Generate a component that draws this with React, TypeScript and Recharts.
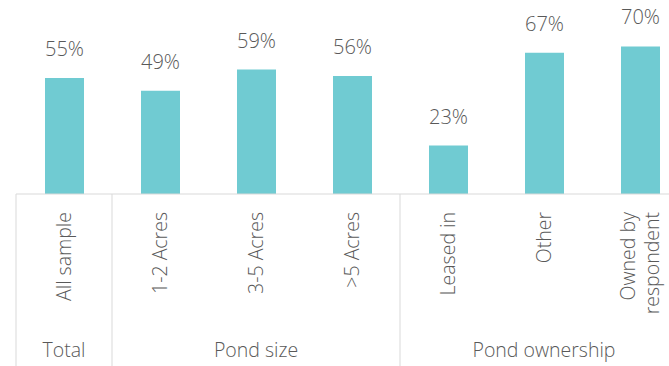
import { BarChart, Bar, XAxis, YAxis, LabelList } from "recharts";

const categories = ["All sample", "1-2 Acres", "3-5 Acres", ">5 Acres", "Leased in", "Other", "Owned by\nrespondent"];
const values = [55, 49, 59, 56, 23, 67, 70];
const groupNames = ["Total", "Pond size", "Pond ownership"];
const groupOf = [0, 1, 1, 1, 2, 2, 2];

const data = categories.map((name, i) => ({ name, value: values[i], group: groupOf[i] }));

const W = 690;
const H = 366;
const MARGIN = { top: 0, right: 2, bottom: 0, left: 16 };
const AXIS_H = 172;
const AXIS_Y = H - AXIS_H;
const BAND = (W - MARGIN.left - MARGIN.right) / categories.length;
const TEXT = "#595959";
const FONT = "'Open Sans', sans-serif";

function CategoryTick(props: any) {
  const { x, payload } = props;
  const i = payload.index;
  const lines = String(payload.value).split("\n");
  const g = groupOf[i];
  const members = groupOf.map((v, k) => (v === g ? k : -1)).filter((k) => k >= 0);
  const isFirst = members[0] === i;
  const isMid = members[Math.floor(members.length / 2)] === i;
  const top = AXIS_Y + 18;
  return (
    <g>
      {isFirst && (
        <line x1={x - BAND / 2} x2={x - BAND / 2} y1={AXIS_Y} y2={H} stroke="#d9d9d9" strokeWidth={1} />
      )}
      {lines.map((ln, k) => {
        const lx = x + (k - (lines.length - 1) / 2) * 24;
        return (
          <text
            key={k}
            x={lx}
            y={top}
            transform={`rotate(-90, ${lx}, ${top})`}
            textAnchor="end"
            dy="0.35em"
            fill={TEXT}
            fontSize={19.5}
            fontWeight={300}
            fontFamily={FONT}
          >
            {ln}
          </text>
        );
      })}
      {isMid && (
        <text x={x} y={AXIS_Y + 163} textAnchor="middle" fill={TEXT} fontSize={19.5} fontWeight={300} fontFamily={FONT}>
          {groupNames[g]}
        </text>
      )}
    </g>
  );
}

function ValueLabel(props: any) {
  const { x, y, width, value } = props;
  return (
    <text x={x + width / 2} y={y - 22} textAnchor="middle" fill={TEXT} fontSize={20} fontWeight={300} fontFamily={FONT}>
      {value}%
    </text>
  );
}

export default function App() {
  return (
    <div style={{ position: "absolute", left: 0, top: 0, width: 669, height: 366, overflow: "hidden", background: "#fff" }}>
      <BarChart width={W} height={H} data={data} margin={MARGIN}>
        <XAxis
          dataKey="name"
          interval={0}
          height={AXIS_H}
          tickLine={false}
          axisLine={{ stroke: "#d9d9d9" }}
          tick={<CategoryTick />}
        />
        <YAxis hide domain={[0, 92]} />
        <Bar dataKey="value" fill="#70cbd2" barSize={39} isAnimationActive={false}>
          <LabelList dataKey="value" content={<ValueLabel />} />
        </Bar>
      </BarChart>
    </div>
  );
}
